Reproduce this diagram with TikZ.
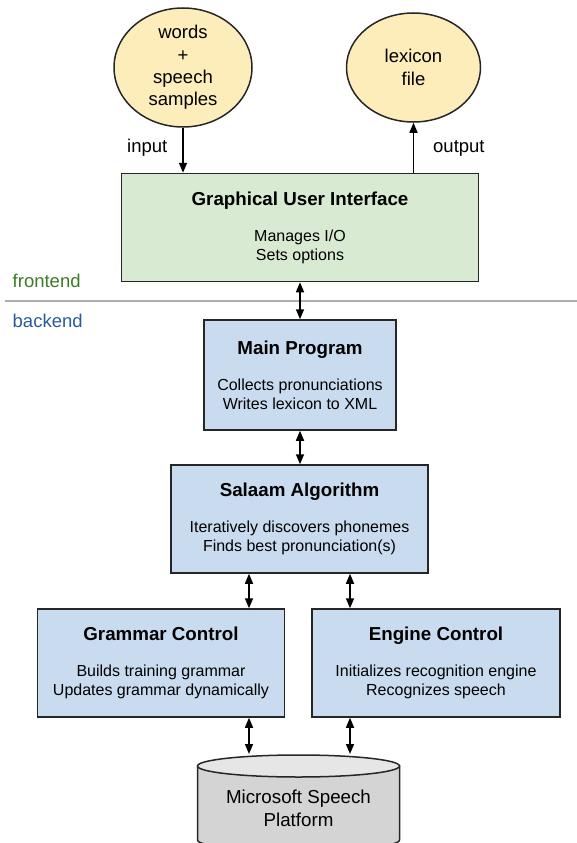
\documentclass[tikz,border=0pt]{standalone}
\usepackage{fontspec}
\setmainfont{Liberation Sans}
\usetikzlibrary{shapes.geometric,arrows.meta}

\definecolor{guigreen}{HTML}{D9EAD3}
\definecolor{modblue}{HTML}{C9DCEF}
\definecolor{filecream}{HTML}{FDEDBA}
\definecolor{dbgrey}{HTML}{D4D4D4}
\definecolor{dbtopgrey}{HTML}{E6E6E6}
\definecolor{frontgreen}{HTML}{3C7A25}
\definecolor{backblue}{HTML}{2A5A9C}

\tikzset{
  module/.style={draw=black!85, line width=1.5pt, rectangle, align=center,
    inner sep=0pt, font=\fontsize{16}{19}\selectfont},
  datafile/.style={draw=black!85, line width=1.5pt, ellipse, fill=filecream,
    align=center, inner sep=0pt, minimum width=138pt, minimum height=109pt,
    font=\fontsize{18.5}{22.3}\selectfont},
  link/.style={line width=1.5pt, {Triangle[length=10pt,width=8pt]}-{Triangle[length=10pt,width=8pt]}},
  flow/.style={line width=1.5pt, -{Triangle[length=10pt,width=8pt]}},
  tag/.style={font=\fontsize{18.5}{22}\selectfont, inner sep=0pt}
}
\newcommand{\modtitle}[1]{{\bfseries\fontsize{18.75}{19}\selectfont #1}\\[17pt]}

\begin{document}
\begin{tikzpicture}[x=1pt,y=-1pt]
\useasboundingbox (0,0) rectangle (577,843);

% input and output files
\node[datafile] (words) at (183,67.5) {words\\+\\speech\\samples};
\node[datafile, minimum width=134pt] (lexicon) at (413.5,67.5) {lexicon\\file};

% frontend
\node[module, fill=guigreen, minimum width=357pt, minimum height=108pt] (gui) at (300,227.5)
  {\modtitle{Graphical User Interface}Manages I/O\\Sets options};

\draw[flow] (words.south) -- (gui.north -| words.south);
\draw[flow] (gui.north -| lexicon.south) -- (lexicon.south);
\node[tag, anchor=base west] (inlabel) at (127,152.5) {input};
\node[tag, anchor=base west] (outlabel) at (433,152.5) {output};

\draw[line width=2pt, black!32] (5,300.5) -- (577,300.5);
\node[tag, anchor=base west, text=frontgreen] (front) at (12.5,287) {frontend};
\node[tag, anchor=base west, text=backblue] (back) at (12.5,327) {backend};

% backend modules
\node[module, fill=modblue, minimum width=192pt, minimum height=110pt] (main) at (300,375)
  {\modtitle{Main Program}Collects pronunciations\\Writes lexicon to XML};
\node[module, fill=modblue, minimum width=257pt, minimum height=108pt] (sal) at (299.5,519)
  {\modtitle{Salaam Algorithm}Iteratively discovers phonemes\\Finds best pronunciation(s)};
\node[module, fill=modblue, minimum width=247pt, minimum height=108pt] (gc) at (161,663)
  {\modtitle{Grammar Control}Builds training grammar\\Updates grammar dynamically};
\node[module, fill=modblue, minimum width=248pt, minimum height=108pt] (ec) at (436,663)
  {\modtitle{Engine Control}Initializes recognition engine\\Recognizes speech};

% speech platform
\filldraw[fill=dbgrey, draw=black!85, line width=1.5pt] (197.5,766) -- (197.5,840)
  arc[start angle=180, end angle=0, x radius=101, y radius=11] -- (399.5,766) -- cycle;
\filldraw[fill=dbtopgrey, draw=black!85, line width=1.5pt] (298.5,766) ellipse [x radius=101, y radius=11];
\node[font=\fontsize{18.75}{23}\selectfont, align=center] (db) at (298.5,808.5) {Microsoft Speech\\Platform};
\coordinate (dbtop) at (298.5,754);

\draw[link] (gui.south -| main.north) -- (main.north);
\draw[link] (main.south) -- (sal.north -| main.south);
\foreach \x/\from/\to in {249/sal/gc, 350/sal/ec, 249/gc/dbtop, 350/ec/dbtop}{
  \draw[link] (\from.south -| \x,0) -- (\to.north -| \x,0);
}
\end{tikzpicture}
\end{document}
